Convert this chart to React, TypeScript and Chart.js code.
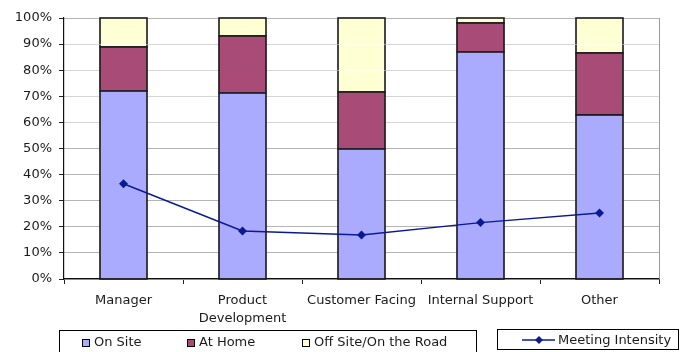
import React, { useEffect, useRef } from 'react';
import { Chart, registerables } from 'chart.js';

Chart.register(...registerables);

// Work location share by role (percent of time), plus meeting intensity
const categories: (string | string[])[] = [
  'Manager',
  ['Product', 'Development'],
  'Customer Facing',
  'Internal Support',
  'Other',
];
const onSite = [72.1, 71.4, 49.9, 87.1, 62.8];
const atHome = [16.7, 21.6, 21.9, 11.0, 23.9];
const offSite = [11.2, 7.0, 28.2, 1.9, 13.3];
const meetingIntensity = [36.5, 18.4, 16.9, 21.6, 25.3];

const seriesNames = ['On Site', 'At Home', 'Off Site/On the Road'];
const lineName = 'Meeting Intensity';

const FONT = '"DejaVu Sans", Verdana, sans-serif';
const TEXT = '#1a1a1a';
const COLORS = ['#aaaaff', '#a94b77', '#ffffd4'];
const LINE_COLOR = '#0a1a90';
const LAST_BAR_INDEX = 3;

const framePlugin = {
  id: 'frameAndLegends',
  beforeDatasetsDraw(chart: any) {
    // right edge of the plot frame
    const { ctx, chartArea } = chart;
    ctx.save();
    ctx.strokeStyle = '#9a9a9a';
    ctx.lineWidth = 1;
    ctx.beginPath();
    ctx.moveTo(Math.round(chartArea.right) + 0.5, chartArea.top);
    ctx.lineTo(Math.round(chartArea.right) + 0.5, chartArea.bottom);
    ctx.stroke();
    ctx.restore();
  },
  afterDatasetDraw(chart: any, args: any) {
    const meta = args.meta;
    if (meta.type !== 'bar') return;
    const ctx = chart.ctx as CanvasRenderingContext2D;
    ctx.save();
    // crisp dark outline around every bar segment
    ctx.strokeStyle = '#1a1a1a';
    ctx.lineWidth = 1.6;
    meta.data.forEach((el: any) => {
      const { x, y, base, width } = el.getProps(['x', 'y', 'base', 'width'], true);
      const left = Math.round(x - width / 2);
      const right = Math.round(x + width / 2);
      const top = Math.round(Math.min(y, base));
      const bottom = Math.round(Math.max(y, base));
      ctx.strokeRect(left, top, right - left, bottom - top);
    });
    // faint light gridline traces across the finished bar stacks
    if (args.index === LAST_BAR_INDEX) {
      const yScale = chart.scales.y;
      const { left, right } = chart.chartArea;
      ctx.strokeStyle = 'rgba(255,255,255,0.45)';
      ctx.lineWidth = 1;
      yScale.ticks.forEach((t: any) => {
        if (t.value <= 0 || t.value >= 100) return;
        const py = Math.round(yScale.getPixelForValue(t.value)) + 0.5;
        ctx.beginPath();
        ctx.moveTo(left + 1, py);
        ctx.lineTo(right, py);
        ctx.stroke();
      });
    }
    ctx.restore();
  },
  afterDraw(chart: any) {
    const ctx = chart.ctx as CanvasRenderingContext2D;
    ctx.save();
    ctx.lineWidth = 1;
    ctx.strokeStyle = '#000';
    ctx.strokeRect(59.5, 330.5, 417, 30);
    ctx.strokeRect(497.5, 329.5, 181, 20);

    ctx.font = `13px ${FONT}`;
    ctx.textBaseline = 'middle';
    ctx.textAlign = 'left';
    const itemX = [82, 187, 302];
    seriesNames.forEach((name, i) => {
      const x = itemX[i];
      ctx.fillStyle = COLORS[i];
      ctx.fillRect(x, 339, 7, 7);
      ctx.strokeStyle = '#000';
      ctx.strokeRect(x + 0.5, 339.5, 7, 7);
      ctx.fillStyle = TEXT;
      ctx.fillText(name, x + 12, 343);
    });

    // line legend: segment with diamond marker
    ctx.strokeStyle = LINE_COLOR;
    ctx.lineWidth = 1.5;
    ctx.beginPath();
    ctx.moveTo(522, 340);
    ctx.lineTo(555, 340);
    ctx.stroke();
    ctx.fillStyle = LINE_COLOR;
    ctx.beginPath();
    ctx.moveTo(539, 336);
    ctx.lineTo(543, 340);
    ctx.lineTo(539, 344);
    ctx.lineTo(535, 340);
    ctx.closePath();
    ctx.fill();
    ctx.fillStyle = TEXT;
    ctx.fillText(lineName, 558, 340.5);
    ctx.restore();
  },
};

export default function App() {
  const canvasRef = useRef<HTMLCanvasElement | null>(null);

  useEffect(() => {
    if (!canvasRef.current) return;
    const barData = [onSite, atHome, offSite];
    const chart = new Chart(canvasRef.current, {
      type: 'bar',
      data: {
        labels: categories as any,
        datasets: [
          {
            type: 'line',
            label: lineName,
            data: meetingIntensity,
            borderColor: LINE_COLOR,
            backgroundColor: LINE_COLOR,
            borderWidth: 1.5,
            pointStyle: 'rectRot',
            pointRadius: 4.5,
            pointBorderWidth: 0,
            tension: 0,
            order: 0,
          } as any,
          ...barData.map((d, i) => ({
            type: 'bar' as const,
            label: seriesNames[i],
            data: d,
            backgroundColor: COLORS[i],
            borderWidth: 0,
            inflateAmount: 0,
            barPercentage: 0.4,
            categoryPercentage: 1.0,
            stack: 'share',
            order: 1,
          })),
        ],
      },
      options: {
        responsive: false,
        animation: false,
        devicePixelRatio: 1,
        layout: { padding: { top: 18, right: 26, left: 0, bottom: 0 } },
        plugins: {
          legend: { display: false },
          tooltip: { enabled: false },
        },
        scales: {
          x: {
            stacked: true,
            offset: true,
            grid: {
              offset: true,
              drawOnChartArea: false,
              tickLength: 5,
              tickColor: '#222',
            },
            border: { color: '#111', width: 1.2 },
            ticks: {
              color: TEXT,
              font: { family: FONT, size: 13, lineHeight: 1.38 },
              padding: 8,
              maxRotation: 0,
              autoSkip: false,
            },
            afterFit(scale: any) {
              scale.height = 73;
            },
          },
          y: {
            stacked: true,
            min: 0,
            max: 100,
            grid: {
              color: '#b4b4b4',
              tickColor: '#222',
              tickLength: 5,
            },
            border: { color: '#111', width: 1.2 },
            ticks: {
              stepSize: 10,
              color: TEXT,
              padding: 7,
              font: { family: FONT, size: 13 },
              callback: (v: any) => `${v}%`,
            },
            afterFit(scale: any) {
              scale.width = 64;
            },
          },
        },
      },
      plugins: [framePlugin],
    });
    return () => chart.destroy();
  }, []);

  return (
    <div
      style={{
        position: 'fixed',
        left: 0,
        top: 0,
        width: 685,
        height: 352,
        background: '#fff',
        overflow: 'hidden',
      }}
    >
      <canvas ref={canvasRef} width={685} height={352} style={{ width: 685, height: 352 }} />
    </div>
  );
}
